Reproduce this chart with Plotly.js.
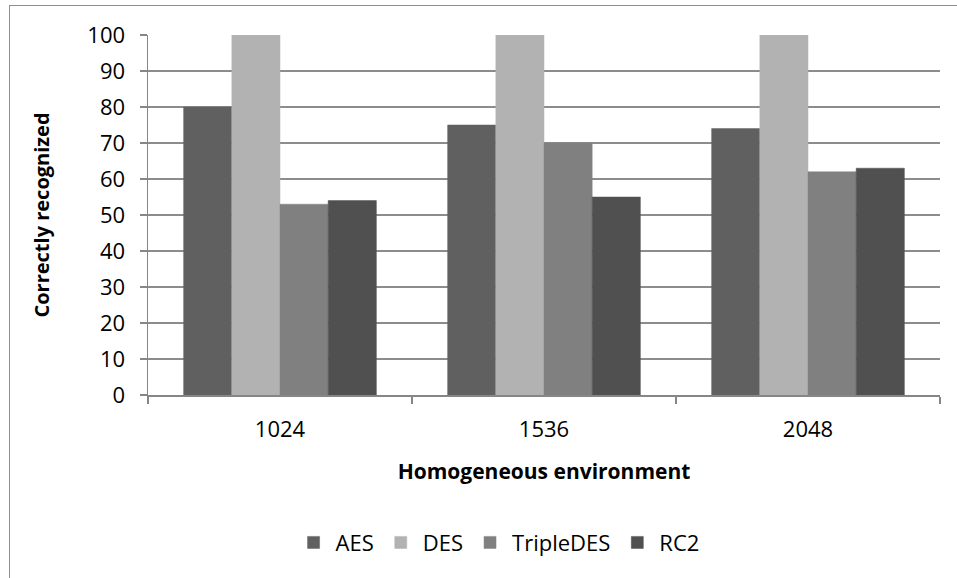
<!DOCTYPE html>
<html>
<head>
<meta charset="utf-8">
<script src="https://cdn.plot.ly/plotly-3.0.1.min.js"></script>
<style>
  html, body { margin: 0; padding: 0; background: #fff; }
  #frame { position: absolute; left: 9px; top: 5px; width: 960px; height: 600px;
           border-left: 1.5px solid #8f8f8f; border-top: 1.5px solid #8f8f8f; }
  #chart { position: absolute; left: 0; top: 0; width: 957px; height: 578px; }
</style>
</head>
<body>
<div id="frame"></div>
<div id="chart"></div>
<script>
const categories = ["1024", "1536", "2048"];
const seriesNames = ["AES", "DES", "TripleDES", "RC2"];
const aes = [80, 75, 74];
const des = [100, 100, 100];
const tripleDes = [53, 70, 62];
const rc2 = [54, 55, 63];
const yTicks = [0, 10, 20, 30, 40, 50, 60, 70, 80, 90, 100];

const colors = ["#606060", "#b2b2b2", "#808080", "#505050"];
const values = [aes, des, tripleDes, rc2];

const traces = values.map((v, i) => ({
  type: "bar",
  name: seriesNames[i],
  x: categories,
  y: v,
  marker: { color: colors[i], line: { color: colors[i], width: 0.5 } },
  hoverinfo: "x+y+name"
}));

const font = "'Open Sans', 'Liberation Sans', sans-serif";

const layout = {
  width: 957,
  height: 578,
  paper_bgcolor: "rgba(0,0,0,0)",
  plot_bgcolor: "rgba(0,0,0,0)",
  margin: { l: 148, r: 17, t: 35, b: 183 },
  barmode: "group",
  bargap: 0.27,
  bargroupgap: 0,
  font: { family: font, color: "#000" },
  xaxis: {
    type: "category",
    showline: true,
    linecolor: "#868686",
    linewidth: 1.5,
    ticks: "outside",
    tickson: "boundaries",
    ticklen: 7,
    tickcolor: "#868686",
    tickwidth: 1.5,
    ticklabelstandoff: 14,
    tickfont: { size: 22, family: font },
    showgrid: false,
    automargin: false,
    title: { text: "<b>Homogeneous environment</b>", font: { size: 21, family: font }, standoff: 22 }
  },
  yaxis: {
    range: [0, 100],
    tickvals: yTicks,
    ticktext: yTicks.map(String),
    showline: true,
    linecolor: "#868686",
    linewidth: 1.5,
    ticks: "outside",
    ticklen: 7,
    tickcolor: "#868686",
    tickwidth: 1.5,
    ticklabelstandoff: 10,
    tickfont: { size: 22, family: font },
    showgrid: true,
    gridcolor: "#8c8c8c",
    gridwidth: 1.5,
    zeroline: false,
    automargin: false,
    title: { text: "<b>Correctly recognized</b>", font: { size: 20, family: font }, standoff: 32 }
  },
  legend: {
    orientation: "h",
    x: 0.442,
    xanchor: "center",
    y: -0.41,
    yanchor: "middle",
    font: { size: 22, family: font },
    itemwidth: 34,
    traceorder: "normal"
  },
  showlegend: true
};

Plotly.newPlot("chart", traces, layout, { displayModeBar: false, staticPlot: true });
</script>
</body>
</html>
